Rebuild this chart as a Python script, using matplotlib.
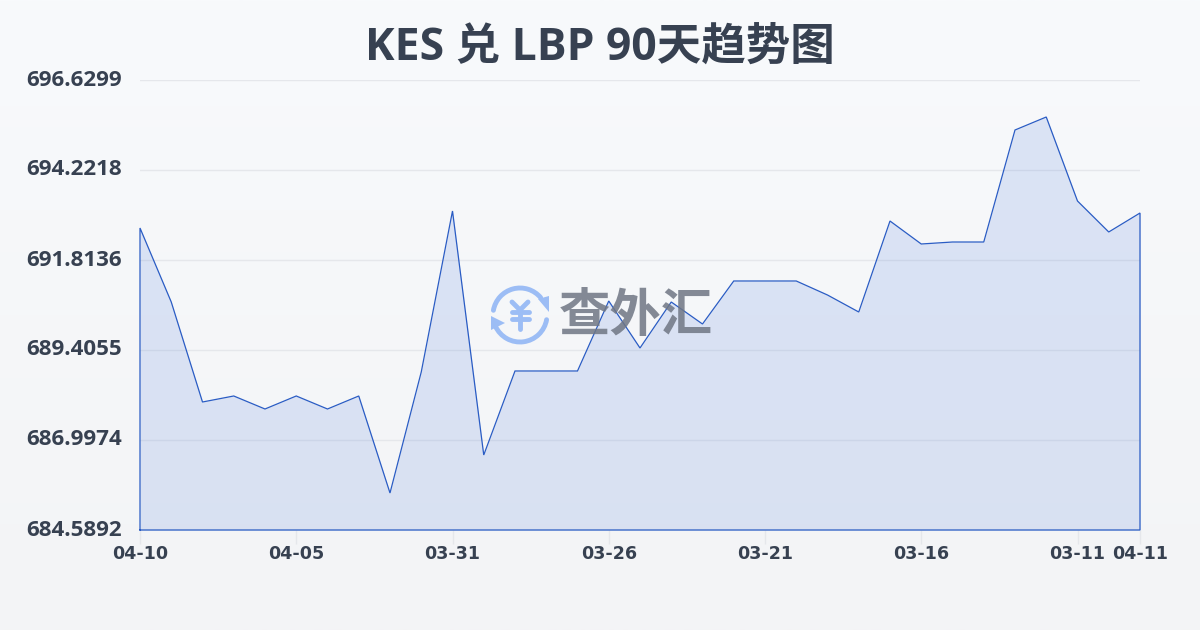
import numpy as np
import matplotlib
matplotlib.use("Agg")
import matplotlib.pyplot as plt
from matplotlib.patches import Arc, Polygon

plt.rcParams['font.family'] = ['Noto Sans CJK SC', 'DejaVu Sans']

title = "KES 兑 LBP 90天趋势图"
watermark = "查外汇"
values = [692.670, 690.690, 688.014, 688.175, 687.827, 688.175, 687.827, 688.175,
          685.579, 688.817, 693.125, 686.596, 688.844, 688.844, 688.844, 690.717,
          689.459, 690.690, 690.101, 691.252, 691.252, 691.252, 690.877, 690.422,
          692.857, 692.242, 692.295, 692.295, 695.292, 695.640, 693.392, 692.563,
          693.071]
x_pos = list(range(len(values)))
tick_positions = [0, 5, 10, 15, 20, 25, 30, 32]
tick_labels = ["04-10", "04-05", "03-31", "03-26", "03-21", "03-16", "03-11", "04-11"]
y_ticks = [684.5892, 686.9974, 689.4055, 691.8136, 694.2218, 696.6299]
y_labels = ["684.5892", "686.9974", "689.4055", "691.8136", "694.2218", "696.6299"]

W, H = 1200, 630
fig = plt.figure(figsize=(12, 6.3), dpi=100)

# background gradient
bg = fig.add_axes([0, 0, 1, 1], zorder=0)
top, bot = np.array([0xf8, 0xfa, 0xfc]) / 255, np.array([0xf3, 0xf4, 0xf6]) / 255
grad = np.linspace(0, 1, 256)[:, None, None] * (bot - top) + top
bg.imshow(grad, aspect='auto', extent=[0, W, H, 0])
bg.set_xlim(0, W); bg.set_ylim(H, 0); bg.axis('off')

ax = fig.add_axes([140 / W, 1 - 530 / H, 1000 / W, 450 / H], zorder=1)
ax.patch.set_alpha(0)
ax.set_xlim(0, 32)
ax.set_ylim(y_ticks[0], y_ticks[-1])
ax.set_yticks(y_ticks, y_labels)
ax.set_xticks(tick_positions, tick_labels)
ax.grid(axis='y', color='#e5e7eb', lw=1)
ax.set_axisbelow(True)
for s in ax.spines.values():
    s.set_visible(False)
ax.tick_params(axis='y', length=0, pad=13)
ax.tick_params(axis='x', length=10, width=1, color='#e5e7eb', pad=1)
for t in ax.get_yticklabels():
    t.set(family=['Open Sans', 'DejaVu Sans'], fontweight='bold', fontsize=16.1, color='#374151', verticalalignment='center')
for t in ax.get_xticklabels():
    t.set(family=['DejaVu Sans'], fontweight='bold', fontsize=12.6, color='#374151')

ax.fill_between(x_pos, values, y_ticks[0], color='#3f6fd8', alpha=0.15, lw=0, zorder=2)
line_x = [x_pos[0]] + x_pos + [x_pos[-1], x_pos[0]]
line_y = [y_ticks[0]] + values + [y_ticks[0], y_ticks[0]]
ax.plot(line_x, line_y, color='#2a5cc4', lw=0.9, zorder=5, clip_on=False, solid_joinstyle='miter')

fig.text(0.5, 1 - 48 / H, title, ha='center', va='center', fontsize=32, fontweight='bold', color='#374151',
         family=['Open Sans', 'Noto Sans CJK SC'])

# watermark overlay in pixel coordinates
ov = fig.add_axes([0, 0, 1, 1], zorder=2)
ov.set_xlim(0, W); ov.set_ylim(H, 0); ov.axis('off'); ov.patch.set_alpha(0)
ic = '#9cbdf5'
cx, cy, r = 520, 315, 27
ov.add_patch(Arc((cx, cy), 2 * r, 2 * r, theta1=190, theta2=320, color=ic, lw=3.5, capstyle='round'))
ov.add_patch(Arc((cx, cy), 2 * r, 2 * r, theta1=10, theta2=155, color=ic, lw=3.5, capstyle='round'))
ov.add_patch(Polygon([(538, 299), (549, 296), (549, 312)], color=ic, lw=0))
ov.add_patch(Polygon([(491, 316), (505, 323), (491, 330)], color=ic, lw=0))
for xs, ys in [([512, 520, 528], [302, 310, 302]), ([512, 529], [312, 312]),
               ([512, 529], [319, 319]), ([520, 520], [310, 329])]:
    ov.plot(xs, ys, color=ic, lw=3.5, solid_capstyle='round', solid_joinstyle='round')
ov.text(636, 316, watermark, ha='center', va='center', fontsize=37, fontweight='bold', color='#6f7684', alpha=0.85)

fig.savefig('out.png', dpi=100)
